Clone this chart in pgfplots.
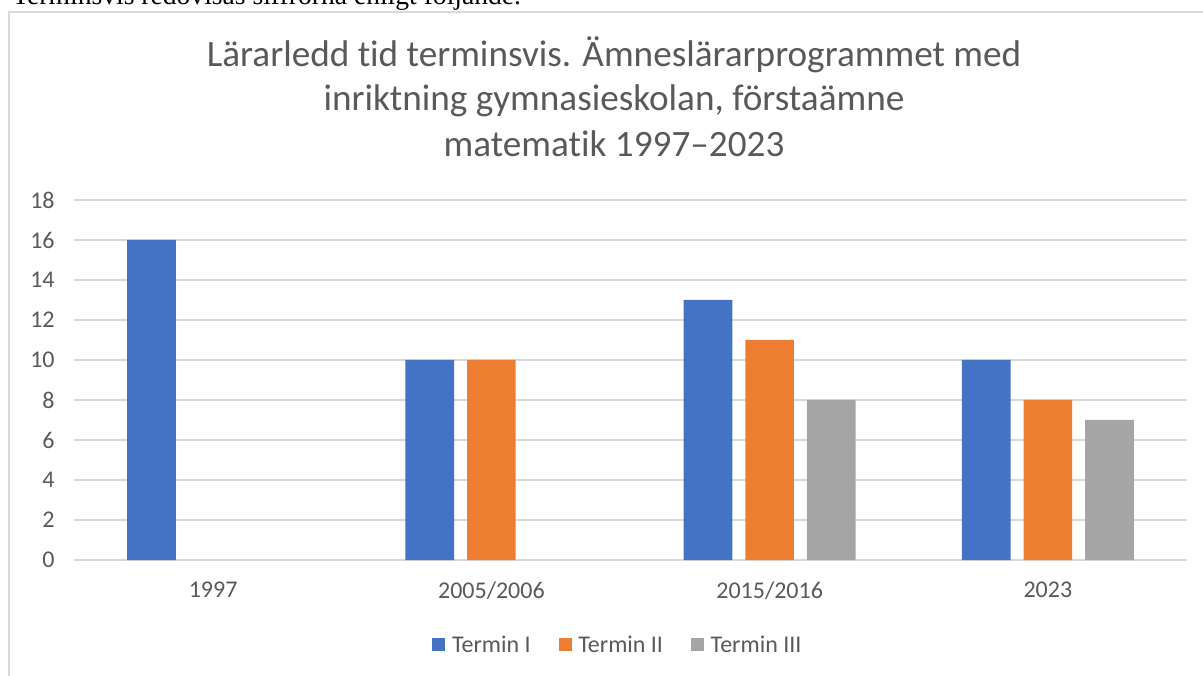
\documentclass[border=0pt]{standalone}
\usepackage{fontspec}
\setmainfont{Carlito}[Ligatures=NoCommon]
\newfontfamily\bodyserif{Liberation Serif}
\usepackage{pgfplots}
\pgfplotsset{compat=1.18}

\definecolor{barblue}{HTML}{4472C4}
\definecolor{barorange}{HTML}{ED7D31}
\definecolor{bargray}{HTML}{A5A5A5}
\definecolor{txtgray}{HTML}{595959}
\definecolor{linegray}{HTML}{D9D9D9}

\begin{document}
\begin{tikzpicture}[x=0.75pt,y=0.75pt]
% page = 1203 x 675 px, y measured from the bottom
\useasboundingbox (0,0) rectangle (1203,675);
\clip (0,0) rectangle (1203,675);

% line of body text above the chart, cut by the page
\node[anchor=base west, inner sep=0pt, font=\bodyserif\fontsize{20.7}{24}\selectfont]
  at (12,670) {Terminsvis redovisas siffrorna enligt följande.};

% chart frame
\draw[linegray, line width=1pt] (9,663) rectangle (1219,-20);

% title
\begin{scope}[every node/.style={anchor=base, inner sep=0pt, text=txtgray,
    font=\fontsize{27.9}{34}\selectfont}]
  \node at (614,608.3) {Lärarledd tid terminsvis. Ämneslärarprogrammet med};
  \node at (614,564.5) {inriktning gymnasieskolan, förstaämne};
  \node at (614,518) {matematik 1997–2023};
\end{scope}

\begin{axis}[
  at={(55.5pt,86.25pt)}, anchor=south west,
  scale only axis, width=834.75pt, height=270pt,
  xmin=-0.5, xmax=3.5, ymin=0, ymax=18,
  xtick={0,1,2,3},
  xticklabels={1997,2005/2006,2015/2016,2023},
  ytick={0,2,...,18},
  axis lines*=left, axis line style={draw=none},
  major tick length=0pt,
  ymajorgrids, grid style={linegray, line width=1pt},
  tick label style={text=txtgray, font=\fontsize{18}{22}\selectfont},
  /pgf/number format/assume math mode=true,
  yticklabel style={anchor=east, xshift=-11pt},
  xticklabel style={anchor=north, yshift=-13pt},
  ybar=9.75pt, bar width=36.5pt,
  legend columns=3,
  legend style={at={(0.489,-0.236)}, anchor=center, draw=none,
    font=\fontsize{18}{22}\selectfont, text=txtgray,
    /tikz/every odd column/.append style={column sep=3pt},
    /tikz/every even column/.append style={column sep=19pt}},
  legend image code/.code={\fill[#1] (0pt,-4.9pt) rectangle (9.75pt,4.9pt);},
]
\addplot[fill=barblue, draw=none] coordinates {(0,16) (1,10) (2,13) (3,10)};
\addplot[fill=barorange, draw=none] coordinates {(1,10) (2,11) (3,8)};
\addplot[fill=bargray, draw=none] coordinates {(2,8) (3,7)};
\legend{Termin I, Termin II, Termin III}
\end{axis}
\end{tikzpicture}
\end{document}
